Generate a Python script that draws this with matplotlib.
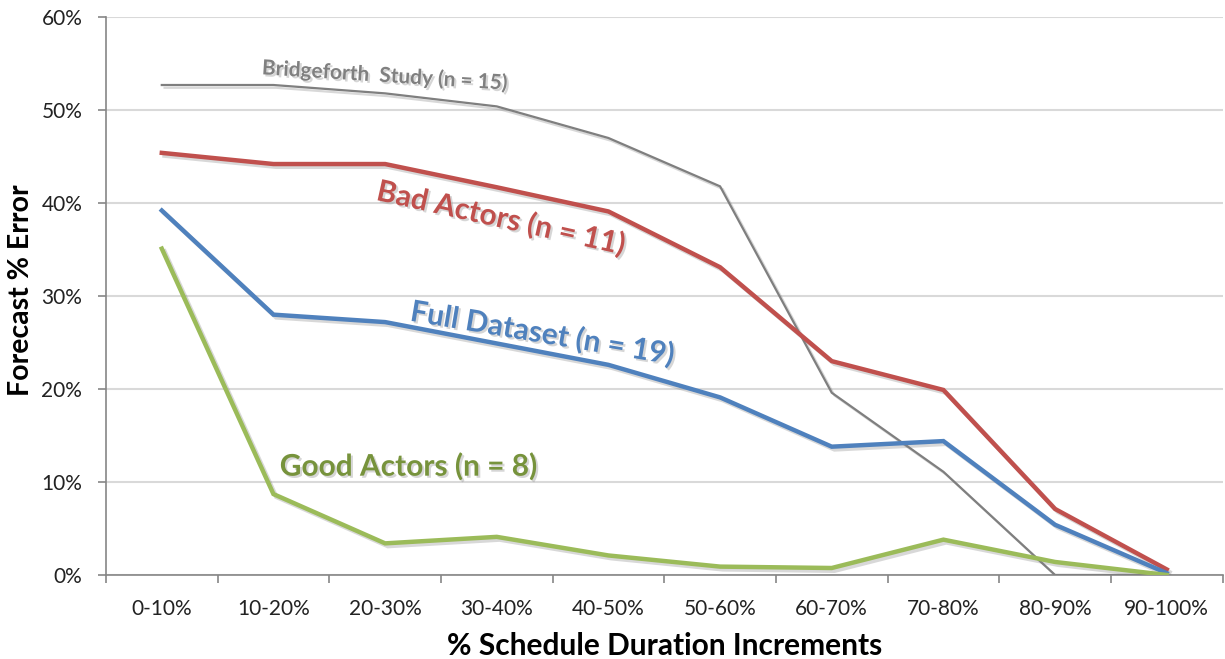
import matplotlib
matplotlib.use("Agg")
import matplotlib.pyplot as plt
import matplotlib.patheffects as pe
import numpy as np

categories = ["0-10%", "10-20%", "20-30%", "30-40%", "40-50%",
              "50-60%", "60-70%", "70-80%", "80-90%", "90-100%"]
bridgeforth = [52.7, 52.7, 51.8, 50.4, 47.0, 41.8, 19.6, 11.1, 0.0, 0.0]
bad_actors = [45.4, 44.2, 44.2, 41.7, 39.1, 33.1, 23.0, 19.9, 7.1, 0.6]
full_dataset = [39.2, 28.0, 27.2, 24.9, 22.6, 19.1, 13.8, 14.4, 5.4, 0.2]
good_actors = [35.1, 8.7, 3.4, 4.1, 2.1, 0.9, 0.75, 3.8, 1.4, 0.0]
y_ticks = [0, 10, 20, 30, 40, 50, 60]

plt.rcParams['font.family'] = ['Lato', 'DejaVu Sans']

fig = plt.figure(figsize=(12.25, 6.59), dpi=100)
ax = fig.add_axes([0.0865, 0.1275, 0.9115, 0.8465])

x = np.arange(len(categories))
shadow = [pe.SimpleLineShadow(offset=(2, -2), shadow_color='#808080', alpha=0.3),
          pe.Normal()]

ax.plot(x, bridgeforth, color='#7F7F7F', lw=1.6, path_effects=shadow, zorder=3,
        solid_joinstyle='miter')
ax.plot(x, bad_actors, color='#C0504D', lw=3.2, path_effects=shadow, zorder=4,
        solid_joinstyle='miter')
ax.plot(x, full_dataset, color='#4F81BD', lw=3.2, path_effects=shadow, zorder=4,
        solid_joinstyle='miter')
ax.plot(x, good_actors, color='#9BBB59', lw=3.2, path_effects=shadow, zorder=4,
        solid_joinstyle='miter')

ax.set_xlim(-0.5, len(categories) - 0.5)
ax.set_ylim(0, 60)

ax.set_yticks(y_ticks)
ax.set_yticklabels([f"{v}%" for v in y_ticks], fontsize=15, color='#222222')
ax.yaxis.grid(True, color='#D9D9D9', lw=1.5)
ax.set_axisbelow(True)

ax.set_xticks(np.arange(len(categories) + 1) - 0.5)
ax.set_xticklabels([])
ax.set_xticks(x, minor=True)
ax.set_xticklabels(categories, minor=True, fontsize=15, color='#222222')
ax.tick_params(axis='x', which='minor', length=0, pad=17)
ax.tick_params(axis='x', which='major', length=6, color='#868686', width=1.2)
ax.tick_params(axis='y', length=6, color='#868686', width=1.2, pad=11)

for s in ['top', 'right']:
    ax.spines[s].set_visible(False)
for s in ['left', 'bottom']:
    ax.spines[s].set_color('#868686')
    ax.spines[s].set_linewidth(1.2)

ax.set_xlabel("% Schedule Duration Increments", fontsize=21.5, fontweight='bold',
              labelpad=10)
fig.text(21 / 1225, 1 - 290 / 659, "Forecast % Error", fontsize=20.5,
         fontweight='bold', rotation=90, ha='center', va='center')

txt_shadow = [pe.withSimplePatchShadow(offset=(1.5, -1.5), shadow_rgbFace='#999999',
                                       alpha=0.4)]

ax.text(2.0, 53.7, "Bridgeforth  Study (n = 15)", color='#808080', fontsize=15,
        fontweight='bold', rotation=-3.6, ha='center', va='center',
        path_effects=txt_shadow)
ax.text(3.04, 38.4, "Bad Actors (n = 11)", color='#C0504D', fontsize=21.5,
        fontweight='bold', rotation=-12.5, ha='center', va='center',
        path_effects=txt_shadow)
ax.text(3.41, 26.0, "Full Dataset (n = 19)", color='#4F81BD', fontsize=21.5,
        fontweight='bold', rotation=-9.5, ha='center', va='center',
        path_effects=txt_shadow)
ax.text(2.21, 11.7, "Good Actors (n = 8)", color='#77933C', fontsize=21.5,
        fontweight='bold', rotation=0, ha='center', va='center',
        path_effects=txt_shadow)

fig.savefig("out.png", dpi=100, facecolor='white')
